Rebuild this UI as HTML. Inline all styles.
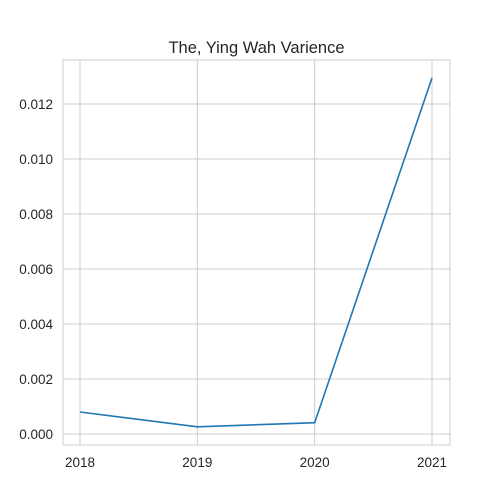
<!DOCTYPE html>
<html><head><meta charset="utf-8"><style>body{margin:0;background:#fff}svg{display:block;font-family:"Liberation Sans",Arial,sans-serif}</style></head>
<body>
<svg width="500" height="500">
<g id="root"></g>
</svg>
<script>
const categories=[2018,2019,2020,2021];
const values=[0.0008,0.00026,0.00041,0.01295];
const yTicks=[0,0.002,0.004,0.006,0.008,0.010,0.012];
const yTickLabels=["0.000","0.002","0.004","0.006","0.008","0.010","0.012"];
const L=63,R=450,T=60,B=445;
const xs=v=>80+(v-2018)*(432-80)/3;
const ys=v=>434-v*(434-104)/0.012;
const ns="http://www.w3.org/2000/svg";
const root=document.getElementById('root');
function mk(t,a,txt){const e=document.createElementNS(ns,t);for(const k in a)e.setAttribute(k,a[k]);if(txt!==undefined)e.textContent=txt;root.appendChild(e);return e;}
let bg=mk('rect',{x:L,y:T,width:R-L,height:B-T,fill:'#fff'});


categories.forEach(c=>{
 let g=mk('line',{x1:xs(c),x2:xs(c),y1:T,y2:B,stroke:'#cccccc','stroke-width':1});
 
 
 let t=mk('text',{x:xs(c),y:B+22,'text-anchor':'middle','font-size':13.5,fill:'#262626'},c);
 
 
});
yTicks.forEach((v,i)=>{
 let g=mk('line',{x1:L,x2:R,y1:ys(v),y2:ys(v),stroke:'#cccccc','stroke-width':1});
 
 
 let t=mk('text',{x:L-10,y:ys(v)+5,'text-anchor':'end','font-size':13.5,fill:'#262626'},yTickLabels[i]);
 
 
});
let fr=mk('rect',{x:L,y:T,width:R-L,height:B-T,fill:'none',stroke:'#cccccc','stroke-width':1});


let ln=mk('polyline',{points:categories.map((c,i)=>xs(c)+','+ys(values[i])).join(' '),fill:'none',stroke:'#1f77b4','stroke-width':1.6});


let ti=mk('text',{x:(L+R)/2,y:T-7,'text-anchor':'middle','font-size':16.5,fill:'#262626'},'The, Ying Wah Varience');


</script>
</body></html>
